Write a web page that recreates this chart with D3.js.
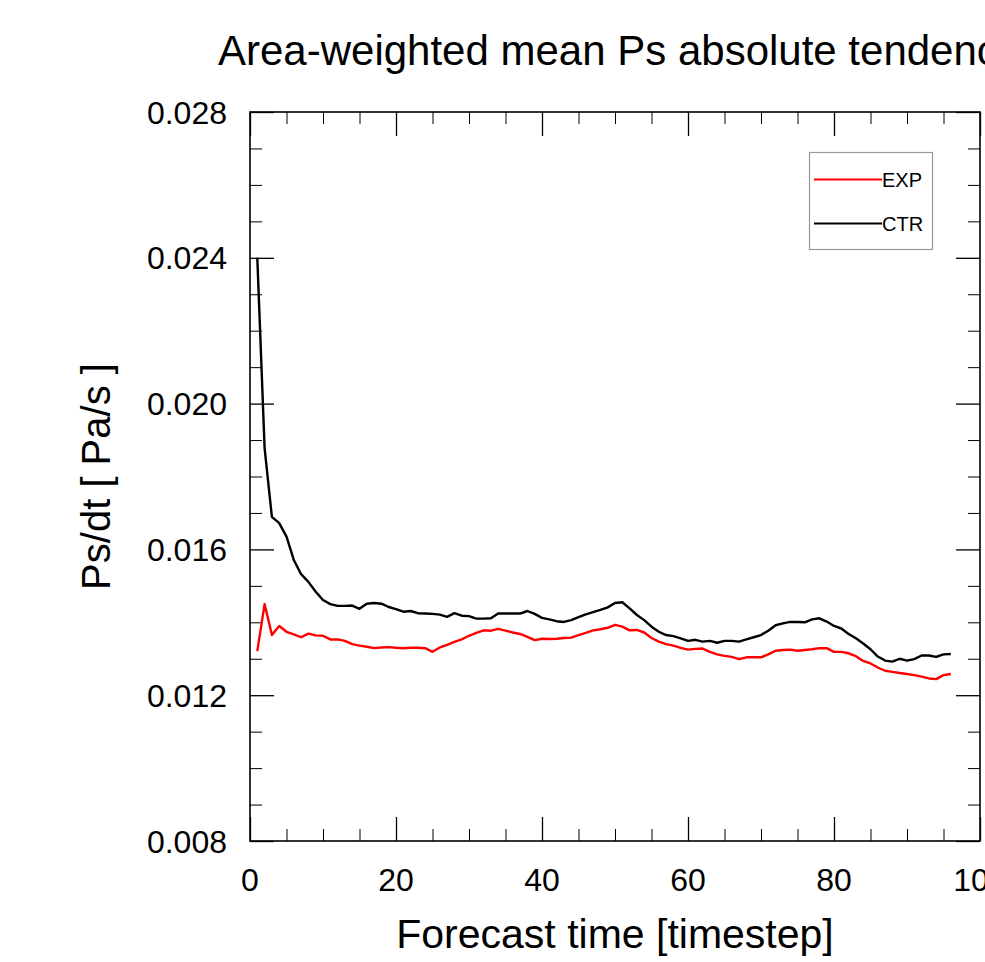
<!DOCTYPE html>
<html>
<head>
<meta charset="utf-8">
<script src="https://cdn.jsdelivr.net/npm/d3@7"></script>
<style>
  html, body { margin: 0; padding: 0; background: #fff; }
  svg { display: block; font-family: "Liberation Sans", Arial, Helvetica, sans-serif; }
</style>
</head>
<body>
<svg id="chart" width="985" height="962"></svg>
<script>
// ---- data ----
const timesteps = d3.range(1, 97);
const ctrValues = [
  0.02400, 0.01878, 0.01689, 0.01672, 0.01635, 0.01571, 0.01532, 0.01511, 0.01484, 0.01461,
  0.01450, 0.01445, 0.01445, 0.01446, 0.01437, 0.01451, 0.01453, 0.01451, 0.01442, 0.01436,
  0.01429, 0.01431, 0.01425, 0.01424, 0.01423, 0.01421, 0.01415, 0.01425, 0.01418, 0.01417,
  0.01410, 0.01410, 0.01411, 0.01424, 0.01424, 0.01424, 0.01424, 0.01431, 0.01423, 0.01412,
  0.01408, 0.01403, 0.01401, 0.01406, 0.01414, 0.01422, 0.01428, 0.01434, 0.01441, 0.01453,
  0.01455, 0.01438, 0.01420, 0.01406, 0.01388, 0.01374, 0.01365, 0.01362, 0.01356, 0.01349,
  0.01352, 0.01347, 0.01349, 0.01344, 0.01349, 0.01349, 0.01347, 0.01353, 0.01359, 0.01365,
  0.01377, 0.01392, 0.01397, 0.01401, 0.01401, 0.01400, 0.01408, 0.01411, 0.01402, 0.01390,
  0.01383, 0.01368, 0.01356, 0.01342, 0.01326, 0.01306, 0.01295, 0.01292, 0.01300, 0.01295,
  0.01299, 0.01309, 0.01309, 0.01305, 0.01312, 0.01313
];
const expValues = [
  0.01321, 0.01450, 0.01365, 0.01390, 0.01374, 0.01367, 0.01359, 0.01369, 0.01364, 0.01363,
  0.01353, 0.01353, 0.01349, 0.01340, 0.01336, 0.01333, 0.01329, 0.01331, 0.01332, 0.01330,
  0.01329, 0.01330, 0.01330, 0.01329, 0.01319, 0.01331, 0.01338, 0.01346, 0.01353, 0.01363,
  0.01371, 0.01378, 0.01377, 0.01382, 0.01377, 0.01372, 0.01368, 0.01360, 0.01351, 0.01355,
  0.01354, 0.01355, 0.01357, 0.01358, 0.01365, 0.01371, 0.01378, 0.01381, 0.01385, 0.01393,
  0.01388, 0.01378, 0.01379, 0.01372, 0.01357, 0.01347, 0.01340, 0.01336, 0.01330, 0.01325,
  0.01327, 0.01328, 0.01319, 0.01312, 0.01308, 0.01305, 0.01299, 0.01304, 0.01304, 0.01304,
  0.01312, 0.01322, 0.01324, 0.01325, 0.01322, 0.01324, 0.01326, 0.01329, 0.01329, 0.01319,
  0.01319, 0.01315, 0.01307, 0.01294, 0.01287, 0.01276, 0.01267, 0.01264, 0.01261, 0.01258,
  0.01255, 0.01251, 0.01246, 0.01244, 0.01255, 0.01258
];
const seriesNames = ["EXP", "CTR"];
const seriesColors = ["#ff0000", "#000000"];
const xTickValues = [0, 20, 40, 60, 80, 100];
const yTickValues = [0.008, 0.012, 0.016, 0.020, 0.024, 0.028];
const titleText = "Area-weighted mean Ps absolute tendency";
const xTitle = "Forecast time [timestep]";
const yTitle = "Ps/dt [ Pa/s ]";

// ---- layout ----
const svg = d3.select("#chart");
const L = 250, R = 980, T = 112, B = 841;
const x = d3.scaleLinear().domain([0, 100]).range([L, R]);
const y = d3.scaleLinear().domain([0.008, 0.028]).range([B, T]);

const majorLen = 24, minorLen = 12;
const xMinor = d3.range(0, 101, 5).filter(v => v % 20 !== 0);
const yMinor = d3.range(8, 29, 1).map(v => v / 1000).filter(v => Math.round(v * 1000) % 4 !== 0);

const g = svg.append("g");

// inward ticks via d3 axes (negative tick size)
function addAxis(axisGen, transform, values, len, cls) {
  const a = g.append("g").attr("transform", transform)
    .call(axisGen.tickValues(values).tickSize(len).tickFormat(""));
  a.select(".domain").remove();
  a.selectAll("line").attr("stroke", "#000").attr("stroke-width", cls === "major" ? 1.3 : 1);
  return a;
}
addAxis(d3.axisBottom(x), `translate(0,${B})`, xTickValues, -majorLen, "major");
addAxis(d3.axisBottom(x), `translate(0,${B})`, xMinor, -minorLen, "minor");
addAxis(d3.axisTop(x), `translate(0,${T})`, xTickValues, -majorLen, "major");
addAxis(d3.axisTop(x), `translate(0,${T})`, xMinor, -minorLen, "minor");
addAxis(d3.axisLeft(y), `translate(${L},0)`, yTickValues, -majorLen, "major");
addAxis(d3.axisLeft(y), `translate(${L},0)`, yMinor, -minorLen, "minor");
addAxis(d3.axisRight(y), `translate(${R},0)`, yTickValues, -majorLen, "major");
addAxis(d3.axisRight(y), `translate(${R},0)`, yMinor, -minorLen, "minor");

// frame
g.append("rect").attr("x", L).attr("y", T).attr("width", R - L).attr("height", B - T)
  .attr("fill", "none").attr("stroke", "#000").attr("stroke-width", 1.6);

// tick labels
g.selectAll(".xl").data(xTickValues).join("text")
  .attr("x", d => x(d)).attr("y", 891)
  .attr("text-anchor", "middle").attr("font-size", 32).attr("fill", "#000")
  .text(d => d);
g.selectAll(".yl").data(yTickValues).join("text")
  .attr("x", 227).attr("y", d => y(d) + 11.5)
  .attr("text-anchor", "end").attr("font-size", 32).attr("fill", "#000")
  .text(d => d3.format(".3f")(d));

// lines
const line = d3.line().x((d, i) => x(timesteps[i])).y(d => y(d));
[expValues, ctrValues].forEach((vals, k) => {
  g.append("path").datum(vals).attr("d", line)
    .attr("fill", "none").attr("stroke", seriesColors[k])
    .attr("stroke-width", 2.4).attr("stroke-linejoin", "round");
});

// legend
const lg = g.append("g");
lg.append("rect").attr("x", 809.5).attr("y", 152.5).attr("width", 123).attr("height", 97)
  .attr("fill", "#fff").attr("stroke", "#999").attr("stroke-width", 1.2);
seriesNames.forEach((name, i) => {
  const ly = 179.5 + i * 44;
  lg.append("line").attr("x1", 814).attr("x2", 882).attr("y1", ly).attr("y2", ly)
    .attr("stroke", seriesColors[i]).attr("stroke-width", 2.2);
  lg.append("text").attr("x", 882).attr("y", ly + 7.5).attr("font-size", 20)
    .attr("fill", "#000").text(name);
});

// titles
svg.append("text").attr("x", 218).attr("y", 65).attr("font-size", 42)
  .attr("fill", "#000").text(titleText);
svg.append("text").attr("x", (L + R) / 2).attr("y", 948).attr("text-anchor", "middle")
  .attr("font-size", 41).attr("fill", "#000").text(xTitle);
svg.append("text").attr("transform", `translate(110,${(T + B) / 2}) rotate(-90)`)
  .attr("text-anchor", "middle").attr("font-size", 40).attr("fill", "#000").text(yTitle);
</script>
</body>
</html>
